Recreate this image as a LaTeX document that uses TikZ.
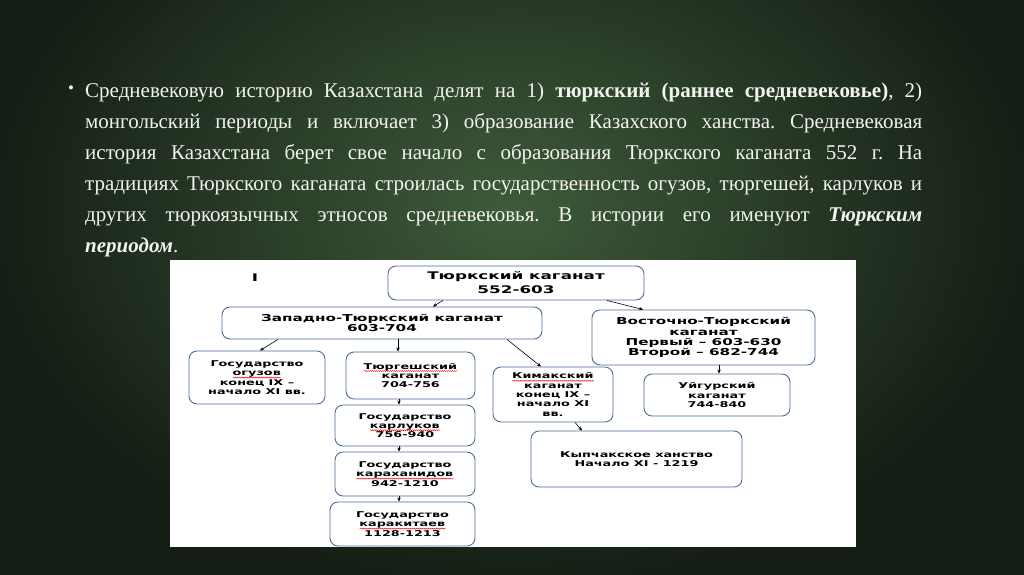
\documentclass[tikz,border=0pt]{standalone}
\usepackage{fontspec}
\setmainfont{Liberation Serif}
\newfontfamily\chartfont{DejaVu Sans}[FakeStretch=1.6]
\usetikzlibrary{arrows.meta,calc,decorations.pathmorphing}
\definecolor{bgin}{RGB}{62,90,58}
\definecolor{bgout}{RGB}{20,29,20}
\definecolor{boxline}{RGB}{75,105,155}
\definecolor{txt}{RGB}{242,242,238}
\newsavebox\splbox
\newcommand\spl[1]{\sbox\splbox{#1}\usebox\splbox\hspace{-\wd\splbox}\tikz[baseline=0pt]{\path[draw=red, fill=none, sharp corners, line width=0.45pt, decorate, decoration={snake,amplitude=0.5pt,segment length=2pt}] (0pt,-1.8pt) -- (\wd\splbox,-1.8pt);}}
\begin{document}
\frenchspacing
\begin{tikzpicture}[x=1pt,y=-1pt,
  chartbox/.style={draw=boxline, line width=0.9pt, rounded corners=8pt, fill=white, align=center, inner sep=0pt, font=\chartfont\bfseries\fontsize{8}{9.3}\selectfont},
  link/.style={-{Stealth[length=4pt,width=3.5pt]}, line width=0.6pt, black},
  bodyline/.style={anchor=base west, text=txt, font=\fontsize{21}{25}\selectfont, inner sep=0pt}]
\useasboundingbox (0,0) rectangle (1024,574);
\begin{scope}
\clip (0,0) rectangle (1024,574);
\shade[inner color=bgin, outer color=bgout] (-20,-174) rectangle (1044,594);
\end{scope}

% bullet text
\node[text=txt, font=\fontsize{17}{17}\selectfont, inner sep=0pt] (bul) at (71,90) {•};
\node[bodyline] (l1) at (85,97) {\makebox[837pt][s]{Средневековую историю Казахстана делят на 1) \textbf{тюркский (раннее средневековье)}, 2)}};
\node[bodyline] (l2) at (85,128) {\makebox[837pt][s]{монгольский периоды и включает 3) образование Казахского ханства. Средневековая}};
\node[bodyline] (l3) at (85,159) {\makebox[837pt][s]{история Казахстана берет свое начало с образования Тюркского каганата 552 г. На}};
\node[bodyline] (l4) at (85,190) {\makebox[837pt][s]{традициях Тюркского каганата строилась государственность огузов, тюргешей, карлуков и}};
\node[bodyline] (l5) at (85,221) {\makebox[837pt][s]{других тюркоязычных этносов средневековья. В истории его именуют \textbf{\textit{Тюркским}}}};
\node[bodyline] (l6) at (85,252) {\textbf{\textit{периодом}}.};

% white panel
\fill[white] (170,260) rectangle (856,547);

\node[font=\chartfont\bfseries\fontsize{10.5}{10.5}\selectfont, inner sep=0pt] (cur) at (255,278) {I};

\node[chartbox, minimum width=256pt, minimum height=34pt, font=\chartfont\bfseries\fontsize{10.5}{14}\selectfont] (top) at (516,283) {Тюркский каганат\\552-603};
\node[chartbox, minimum width=320pt, minimum height=32pt, font=\chartfont\bfseries\fontsize{9.5}{10.5}\selectfont] (w) at (382,323) {Западно-Тюркский каганат\\603-704};
\node[chartbox, minimum width=223pt, minimum height=55pt, font=\chartfont\bfseries\fontsize{9.5}{10.3}\selectfont] (e) at (703.5,337.5) {Восточно-Тюркский\\каганат\\Первый – 603-630\\Второй – 682-744};
\node[chartbox, minimum width=136pt, minimum height=53pt] (og) at (257,377.5) {Государство\\\spl{огузов}\\конец IX –\\начало XI вв.};
\node[chartbox, minimum width=129pt, minimum height=47pt] (tu) at (410.5,375.5) {\spl{Тюргешский}\\каганат\\704-756};
\node[chartbox, minimum width=120pt, minimum height=55pt] (ki) at (553,394.5) {\spl{Кимакский}\\каганат\\конец IX –\\начало XI\\вв.};
\node[chartbox, minimum width=146pt, minimum height=42pt] (uy) at (717,395) {Уйгурский\\каганат\\744-840};
\node[chartbox, minimum width=140pt, minimum height=41pt] (ka) at (405,425.5) {Государство\\\spl{карлуков}\\756-940};
\node[chartbox, minimum width=140pt, minimum height=44pt] (kh) at (405,474) {Государство\\\spl{караханидов}\\942-1210};
\node[chartbox, minimum width=145pt, minimum height=44pt] (kt) at (402.5,524) {Государство\\\spl{каракитаев}\\1128-1213};
\node[chartbox, minimum width=211pt, minimum height=56pt] (ky) at (636.5,459) {Кыпчакское ханство\\Начало XI - 1219};

\draw[link] ([xshift=-73pt]top.south) -- ([xshift=51pt]w.north);
\draw[link] ([xshift=91pt]top.south) -- ([xshift=-60.5pt]e.north);
\draw[link] ([xshift=-104pt]w.south) -- ([xshift=3pt]og.north);
\draw[link] ([xshift=16pt]w.south) -- ([xshift=-12.5pt]tu.north);
\draw[link] ([xshift=125pt]w.south) -- ([xshift=-12pt]ki.north);
\draw[link] ([xshift=15.5pt]e.south) -- ([xshift=2pt]uy.north);
\draw[link] ([xshift=-11.5pt]tu.south) -- ([xshift=-6pt]ka.north);
\draw[link] ([xshift=-6pt]ka.south) -- ([xshift=-6pt]kh.north);
\draw[link] ([xshift=-6pt]kh.south) -- ([xshift=-3.5pt]kt.north);
\draw[link] ([xshift=22pt]ki.south) -- ([xshift=-54.5pt]ky.north);
\end{tikzpicture}
\end{document}
